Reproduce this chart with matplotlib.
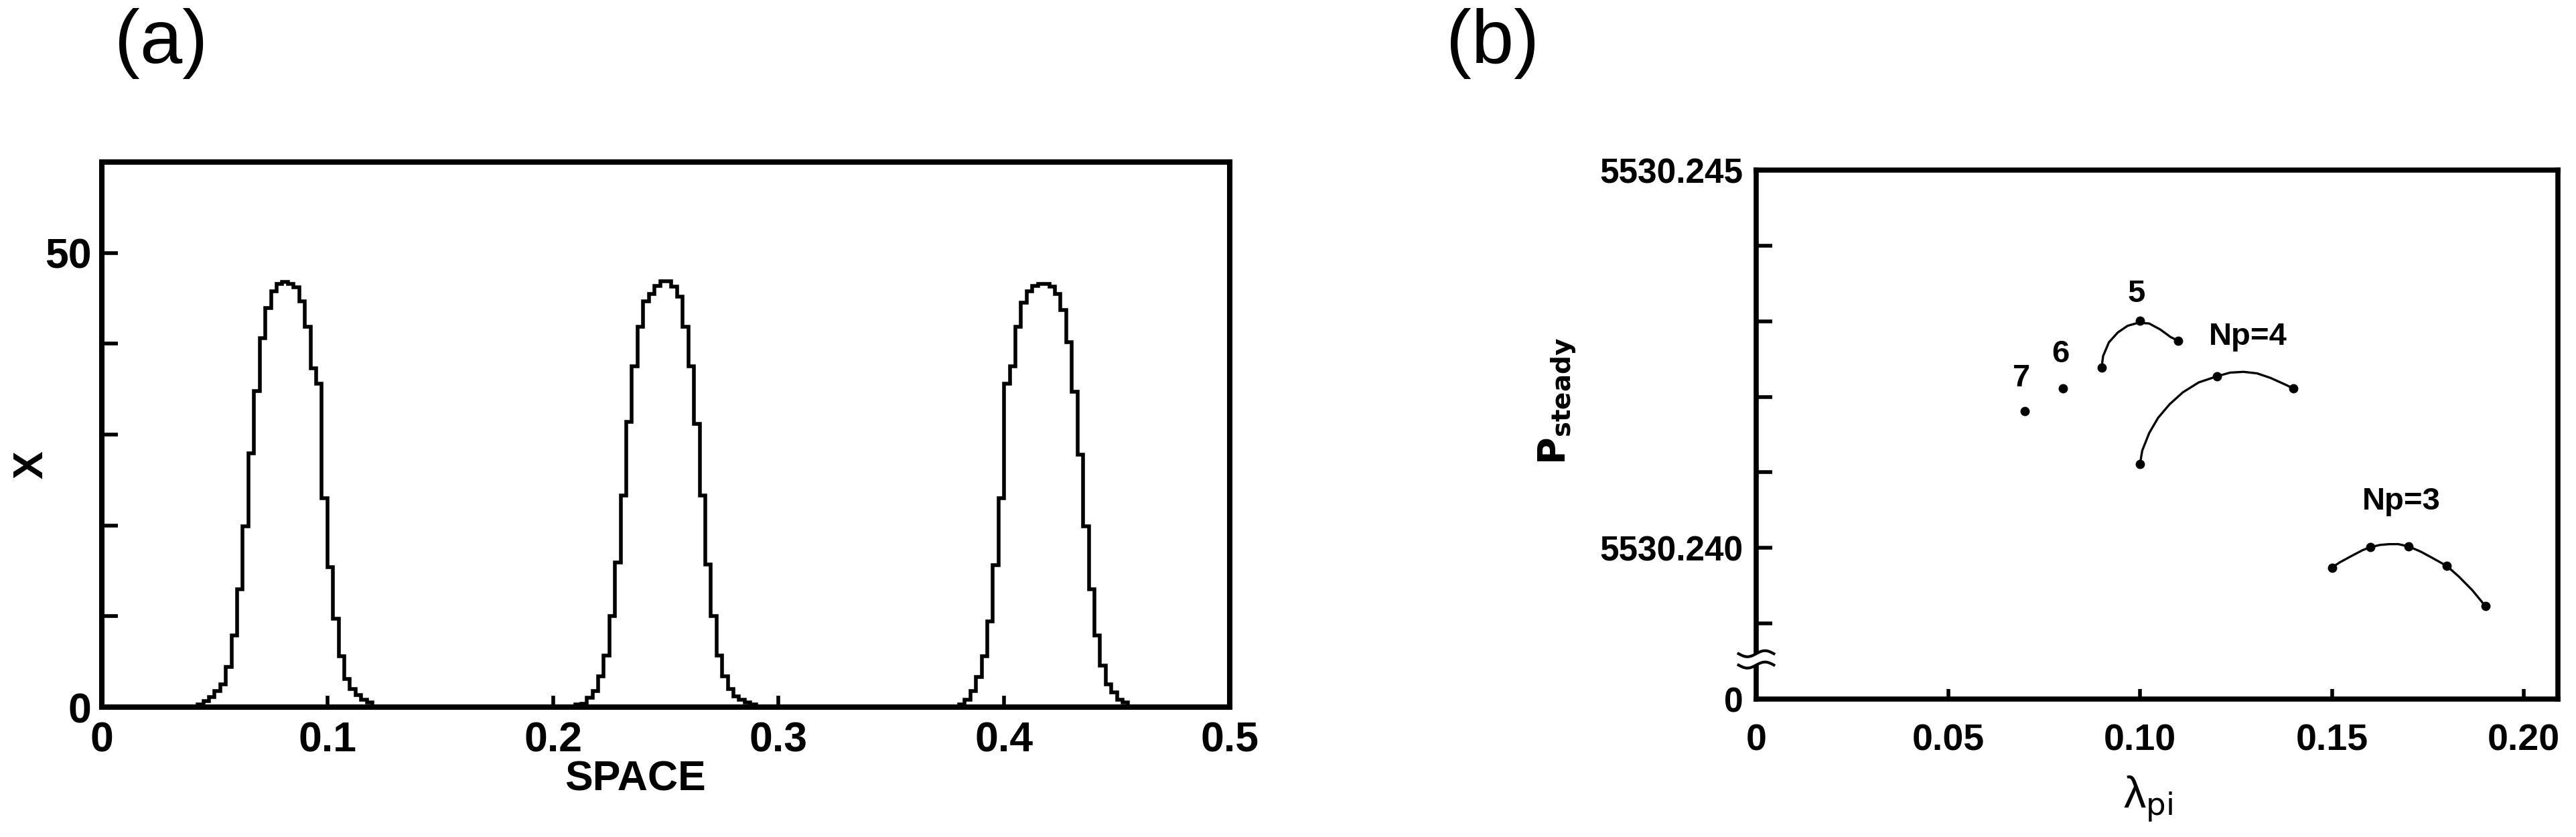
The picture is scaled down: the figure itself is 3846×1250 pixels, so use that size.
import numpy as np
import matplotlib.pyplot as plt
from matplotlib import font_manager
from matplotlib.transforms import blended_transform_factory

have = {f.name for f in font_manager.fontManager.ttflist}
SANS = 'Liberation Sans' if 'Liberation Sans' in have else 'DejaVu Sans'
plt.rcParams['mathtext.fontset'] = 'dejavusans'

# ---- (a) histogram of X over SPACE, 200 cells on 0..0.5
n_cells = 200
space_max = 0.5
peak1_start = 17
peak1 = [0.3, 0.7, 1.1, 1.8, 2.5, 4.4, 7.9, 13.0, 19.9, 27.9, 34.8, 40.6, 43.9, 45.8, 46.6,
         46.8, 46.6, 46.2, 44.7, 41.9, 37.3, 35.6, 23.0, 15.4, 9.7, 5.6, 3.1, 2.0, 1.3, 0.8, 0.5]
peak2_start = 84
peak2 = [0.3, 0.4, 1.0, 1.8, 3.4, 5.7, 10.0, 15.9, 23.3, 31.4, 37.5, 41.9, 44.7, 45.5, 46.4, 46.9,
         46.9, 46.3, 45.2, 41.9, 37.5, 31.2, 23.3, 15.7, 10.0, 5.7, 3.4, 2.0, 1.2, 0.8, 0.5, 0.3]
peak3_start = 152
peak3 = [0.3, 0.8, 1.8, 3.3, 5.6, 9.4, 15.6, 23.0, 35.6, 37.5, 41.9, 44.5, 45.8, 46.4, 46.6,
         46.6, 46.3, 45.5, 43.7, 40.2, 34.7, 27.8, 19.9, 13.0, 7.9, 4.6, 2.5, 1.6, 0.8, 0.5]

xticks_a = [0, 0.1, 0.2, 0.3, 0.4, 0.5]
xlabels_a = ['0', '0.1', '0.2', '0.3', '0.4', '0.5']
yticks_a = [0, 10, 20, 30, 40, 50]
ylabels_a = ['0', '', '', '', '', '50']

# ---- (b) P_steady vs lambda_pi
lam_7 = [0.07]
p_7 = [5530.24181]
lam_6 = [0.08]
p_6 = [5530.24211]
np5_lam = [0.09, 0.10, 0.11]
np5_p = [5530.24239, 5530.24301, 5530.24274]
np4_lam = [0.10, 0.12, 0.14]
np4_p = [5530.24111, 5530.24227, 5530.24211]
np3_lam = [0.15, 0.16, 0.17, 0.18, 0.19]
np3_p = [5530.23974, 5530.24001, 5530.24002, 5530.23976, 5530.23923]

# hand drawn curves, traced
np5_curve_lam = [0.0900, 0.0904, 0.0919, 0.0942, 0.0968, 0.0996, 0.1024, 0.1053, 0.1080, 0.1100]
np5_curve_p = [5530.24239, 5530.24254, 5530.24272, 5530.24285, 5530.24294, 5530.24298,
               5530.24297, 5530.24289, 5530.24279, 5530.24274]
np4_curve_lam = [0.1000, 0.1006, 0.1024, 0.1047, 0.1077, 0.1112, 0.1153, 0.1200, 0.1235,
                 0.1270, 0.1305, 0.1340, 0.1375, 0.1400]
np4_curve_p = [5530.24111, 5530.24129, 5530.24152, 5530.24172, 5530.24190, 5530.24206,
               5530.24219, 5530.24227, 5530.24232, 5530.24233, 5530.24231, 5530.24225,
               5530.24217, 5530.24211]
np3_curve_lam = [0.1500, 0.1521, 0.1550, 0.1580, 0.1600, 0.1626, 0.1650, 0.1673, 0.1700,
                 0.1732, 0.1761, 0.1800, 0.1831, 0.1866, 0.1900]
np3_curve_p = [5530.23974, 5530.23981, 5530.23989, 5530.23997, 5530.24001, 5530.24004,
               5530.24005, 5530.24005, 5530.24002, 5530.23995, 5530.23987, 5530.23976,
               5530.23962, 5530.23944, 5530.23923]

xticks_b = [0, 0.05, 0.10, 0.15, 0.20]
xlabels_b = ['0', '0.05', '0.10', '0.15', '0.20']
yticks_b = [5530.238, 5530.239, 5530.240, 5530.241, 5530.242, 5530.243, 5530.244, 5530.245]
ylabels_b = ['0', '', '5530.240', '', '', '', '', '5530.245']
breaks_b = [5530.23845, 5530.23860]

labels_b = [('7', 0.0692, 5530.24224), ('6', 0.0793, 5530.24256), ('5', 0.0991, 5530.24336),
            ('Np=4', 0.1282, 5530.24279), ('Np=3', 0.1681, 5530.24061)]


fig = plt.figure(figsize=(38.46, 12.5), dpi=100)

# (a)
counts = np.zeros(n_cells)
for start, vals in ((peak1_start, peak1), (peak2_start, peak2), (peak3_start, peak3)):
    counts[start:start + len(vals)] = vals
edges = np.linspace(0, space_max, n_cells + 1)

axa = fig.add_axes([0.03952, 0.1552, 0.43786, 0.6512])
axa.stairs(counts, edges, color='k', lw=4, baseline=0)
axa.set_xlim(0, space_max)
axa.set_ylim(0, 60)
axa.set_xticks(xticks_a, xlabels_a, fontfamily=SANS, fontweight='bold', fontsize=45)
axa.set_yticks(yticks_a, ylabels_a, fontfamily=SANS, fontweight='bold', fontsize=45)
axa.tick_params(direction='in', width=4, top=False, right=False)
axa.tick_params(axis='x', length=12, pad=15)
axa.tick_params(axis='y', length=17, pad=11)
axa.set_xlabel('SPACE', fontfamily=SANS, fontweight='bold', fontsize=45, va='center')
axa.xaxis.set_label_coords(0.473, -0.1327)
axa.set_ylabel('X', fontfamily=SANS, fontweight='bold', fontsize=45, va='center')
axa.yaxis.set_label_coords(-0.0624, 0.445)
for s in axa.spines.values():
    s.set_linewidth(5.8)

# (b)
axb = fig.add_axes([0.68175, 0.1648, 0.31123, 0.632])
axb.plot(np5_curve_lam, np5_curve_p, color='k', lw=2.4, solid_joinstyle='round')
axb.plot(np4_curve_lam, np4_curve_p, color='k', lw=2.4, solid_joinstyle='round')
axb.plot(np3_curve_lam, np3_curve_p, color='k', lw=2.4, solid_joinstyle='round')
for xs, ys in ((lam_7, p_7), (lam_6, p_6), (np5_lam, np5_p), (np4_lam, np4_p), (np3_lam, np3_p)):
    axb.plot(xs, ys, 'o', color='k', ms=9)
for txt, x, y in labels_b:
    axb.text(x, y, txt, ha='center', va='center', fontfamily=SANS, fontweight='bold', fontsize=34)

axb.set_xlim(0, 0.2089)
axb.set_ylim(5530.238, 5530.245)
axb.set_xticks(xticks_b, xlabels_b, fontfamily=SANS, fontweight='bold', fontsize=40)
axb.set_yticks(yticks_b, ylabels_b, fontfamily=SANS, fontweight='bold', fontsize=37)
axb.tick_params(direction='in', width=4, top=False, right=False)
axb.tick_params(axis='x', length=11, pad=26)
axb.tick_params(axis='y', length=17, pad=14)
axb.set_xlabel(r'λ$_{\mathrm{pi}}$', fontfamily=SANS, fontsize=48, va='center')
axb.xaxis.set_label_coords(0.489, -0.189)
axb.set_ylabel(r'$\mathbf{P}_{\mathbf{steady}}$', fontsize=40, va='center')
axb.yaxis.set_label_coords(-0.248, 0.563)
for s in axb.spines.values():
    s.set_linewidth(5.5)

# axis break on the left spine
tr = blended_transform_factory(axb.transAxes, axb.transData)
axb.plot([0, 0], breaks_b, transform=tr, color='white', lw=12, clip_on=False, zorder=5,
         solid_capstyle='butt')
t = np.linspace(-0.022, 0.022, 40)
for yb in breaks_b:
    axb.plot(t, yb + 0.00004 * np.sin(t / 0.022 * np.pi), transform=tr, color='k', lw=3,
             clip_on=False, zorder=6)

fig.text(171 / 3846, 1 - 12 / 1250, '(a)', fontfamily=SANS, fontsize=82, va='top', ha='left')
fig.text(2159 / 3846, 1 - 12 / 1250, '(b)', fontfamily=SANS, fontsize=82, va='top', ha='left')

fig.savefig('out.png', dpi=100)
